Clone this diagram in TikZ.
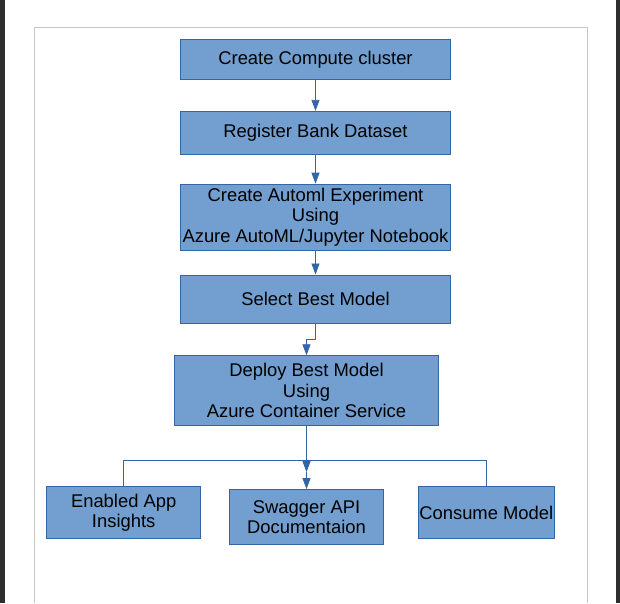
\documentclass[tikz,border=0pt]{standalone}
\usepackage{fontspec}
\setmainfont{Liberation Sans}
\usetikzlibrary{arrows.meta}
\usetikzlibrary{calc}
\usetikzlibrary{positioning}

\definecolor{boxfill}{HTML}{729FCF}
\definecolor{boxline}{HTML}{3465A4}
\definecolor{pageedge}{HTML}{2E2E2E}
\definecolor{framegray}{HTML}{C6C6C6}

\tikzset{
  stepbox/.style={draw=boxline, fill=boxfill, line width=0.8pt, align=center,
    inner sep=1pt, font=\fontsize{18.4}{20.5}\selectfont},
  flow/.style={draw=boxline, line width=0.8pt, -{Triangle[length=11pt,width=8pt]}},
  link/.style={draw=boxline, line width=0.8pt},
}

\begin{document}
\begin{tikzpicture}[x=1pt, y=-1pt]
        \useasboundingbox (0,0) rectangle (620,603);
        \fill[pageedge] (0,0) rectangle (5,603);
        \fill[pageedge] (616,0) rectangle (620,603);
        \draw[framegray, line width=1pt] (34,603) -- (34,27) -- (587,27) -- (587,603);

        \node[stepbox, minimum width=270pt, minimum height=40pt] (compute) at (315.5,59.5) {Create Compute cluster};
        \node[stepbox, minimum width=270pt, minimum height=43pt, below=31pt of compute] (dataset) {Register Bank Dataset};
        \node[stepbox, minimum width=270pt, minimum height=66pt, below=29pt of dataset] (automl) {Create Automl Experiment\\Using\\Azure AutoML/Jupyter Notebook};
        \node[stepbox, minimum width=270pt, minimum height=48pt, below=24pt of automl] (best) {Select Best Model};
        \node[stepbox, minimum width=264pt, minimum height=70pt, below=32pt of best, xshift=-9pt] (deploy) {Deploy Best Model\\Using\\Azure Container Service};

        \node[stepbox, minimum width=154pt, minimum height=55pt, below=63pt of deploy] (swagger) {Swagger API\\Documentaion};
        \node[stepbox, minimum width=154pt, minimum height=52pt, left=28pt of swagger, yshift=4.5pt] (insights) {Enabled App\\Insights};
        \node[stepbox, minimum width=133pt, minimum height=52pt, right=34pt of swagger, yshift=4.5pt] (consume) {Consume Model};
        \coordinate (split) at ($(deploy.south)+(0,46)$);

        \draw[flow] (compute) -- (dataset);
        \draw[flow] (dataset) -- (automl);
        \draw[flow] (automl) -- (best);
        \draw[flow] (best.south) -- ++(0,16) -| (deploy.north);
        \draw[flow] (deploy.south) -- (split);
        \draw[flow] (split) -- (swagger.north);
        \draw[link] (insights.north) -- ++(0,-26) -| (consume.north);
    \end{tikzpicture}
\end{document}
